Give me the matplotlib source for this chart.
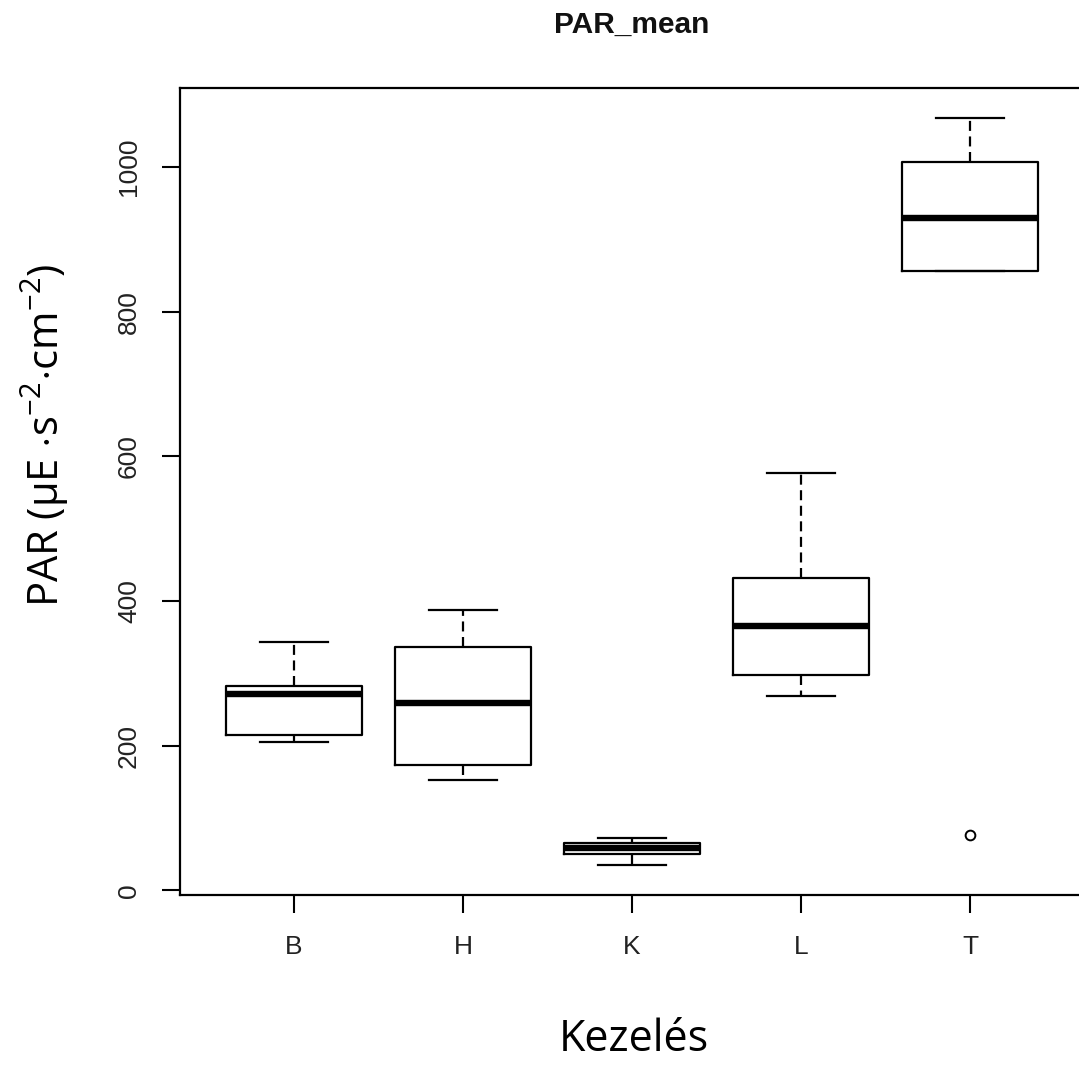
import numpy as np
import matplotlib.pyplot as plt

plt.rcParams["font.family"] = ["Liberation Sans", "DejaVu Sans"]
plt.rcParams["mathtext.fontset"] = "custom"
plt.rcParams["mathtext.rm"] = "Open Sans"
plt.rcParams["mathtext.it"] = "Open Sans"

# PAR_mean per treatment (box stats read as five-number summaries)
groups = ["B", "H", "K", "L", "T"]
whisker_lo = [205, 153, 35, 269, 856]
q1 = [215, 173, 51, 298, 856]
medians = [272, 259, 58, 366, 930]
q3 = [282, 336, 66, 432, 1007]
whisker_hi = [343, 388, 73, 577, 1068]
outliers = [[], [], [], [], [77]]

stats = []
for i, g in enumerate(groups):
    stats.append({
        "label": g,
        "whislo": whisker_lo[i],
        "q1": q1[i],
        "med": medians[i],
        "q3": q3[i],
        "whishi": whisker_hi[i],
        "fliers": outliers[i],
    })

fig = plt.figure(figsize=(10.79, 10.65), dpi=100)
ax = fig.add_axes([180 / 1079, 1 - 895 / 1065, 910 / 1079, (895 - 88) / 1065])

lw = 1.6
ax.bxp(
    stats,
    positions=np.arange(1, len(groups) + 1),
    widths=0.8,
    showfliers=True,
    boxprops=dict(color="black", linewidth=lw),
    medianprops=dict(color="black", linewidth=4.6, solid_capstyle="butt"),
    whiskerprops=dict(color="black", linewidth=lw, linestyle=(0, (4.5, 2.5))),
    capprops=dict(color="black", linewidth=lw),
    capwidths=0.4,
    flierprops=dict(marker="o", markerfacecolor="none", markeredgecolor="black",
                    markersize=7, markeredgewidth=1.4),
)

lo = min(whisker_lo + [77])
hi = max(whisker_hi)
rng = hi - lo
ax.set_xlim(0.325, 5.71)
ax.set_ylim(lo - 0.04 * rng, hi + 0.04 * rng)

ax.set_yticks([0, 200, 400, 600, 800, 1000])
ax.set_xticks(np.arange(1, len(groups) + 1))
ax.set_xticklabels(groups)
ax.tick_params(axis="both", length=13, width=1.5, color="black",
               labelsize=19, labelcolor="#222222")
ax.tick_params(axis="y", pad=15)
ax.tick_params(axis="x", pad=16)
for lab in ax.get_yticklabels():
    lab.set_rotation(90)
    lab.set_va("center")

for sp in ax.spines.values():
    sp.set_linewidth(1.6)

fig.text(632 / 1079, 1 - 25 / 1065, "PAR_mean", ha="center", va="center",
         fontsize=21.5, fontweight="bold", color="#111111")

fig.text(45 / 1079, 1 - 435 / 1065,
         r"PAR ($\mathrm{\mu}$E $\cdot$s$^{-2}$$\cdot$cm$^{-2}$)",
         rotation=90, ha="center", va="center", fontsize=30,
         family="Open Sans", color="black")
fig.text(634 / 1079, 1 - 1040 / 1065, "Kezelés", ha="center", va="center",
         fontsize=31, family="Open Sans", color="black")

fig.savefig("out.png", dpi=100)
